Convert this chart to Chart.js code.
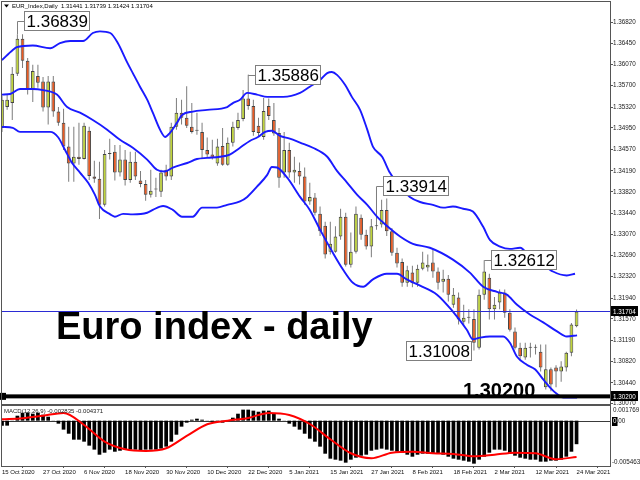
<!DOCTYPE html>
<html>
<head>
<meta charset="utf-8">
<title>Euro index - daily</title>
<script src="https://cdn.jsdelivr.net/npm/chart.js@4.4.1/dist/chart.umd.min.js"></script>
<style>
  html, body { margin: 0; padding: 0; background: #fff; }
  #wrap { position: relative; width: 640px; height: 480px; overflow: hidden; background: #fff; }
  canvas { position: absolute; left: 0; }
  #priceChart { top: 0; }
  #macdChart { top: 404px; }
</style>
</head>
<body>
<div id="wrap">
  <canvas id="priceChart" width="640" height="406"></canvas>
  <canvas id="macdChart" width="640" height="76"></canvas>
</div>
<script>
// Datos (velas diarias, 15 Oct 2020 - 24 Mar 2021)
const symbol = 'EUR_Index';
const chartTitle = 'Euro index - daily';

const dateLabels = ['15 Oct 2020', '27 Oct 2020', '6 Nov 2020', '18 Nov 2020', '30 Nov 2020',
  '10 Dec 2020', '22 Dec 2020', '5 Jan 2021', '15 Jan 2021', '27 Jan 2021', '8 Feb 2021',
  '18 Feb 2021', '2 Mar 2021', '12 Mar 2021', '24 Mar 2021'];
const dateBars = [0, 8, 16, 24, 32, 40, 48, 56, 64, 72, 80, 88, 96, 104, 112];

const opens = [1.3495,1.3532,1.3539,1.3591,1.3653,1.3614,1.3564,1.3587,1.3577,1.3531,
  1.3577,1.3524,1.3504,1.3462,1.3432,1.3444,1.3440,1.3490,1.3409,1.3405,
  1.3359,1.3449,1.3453,1.3416,1.3439,1.3403,1.3435,1.3402,1.3396,1.3377,
  1.3386,1.3382,1.3421,1.3409,1.3497,1.3522,1.3513,1.3497,1.3490,1.3488,
  1.3456,1.3448,1.3432,1.3463,1.3430,1.3469,1.3495,1.3511,1.3547,1.3534,
  1.3499,1.3479,1.3534,1.3509,1.3486,1.3416,1.3456,1.3416,1.3419,1.3409,
  1.3365,1.3372,1.3343,1.3322,1.3276,1.3276,1.3303,1.3338,1.3253,1.3276,
  1.3336,1.3306,1.3285,1.3321,1.3324,1.3350,1.3312,1.3274,1.3258,1.3221,
  1.3239,1.3221,1.3246,1.3248,1.3257,1.3241,1.3223,1.3228,1.3182,1.3195,
  1.3152,1.3159,1.3157,1.3106,1.3200,1.3230,1.3174,1.3186,1.3204,1.3168,
  1.3135,1.3106,1.3089,1.3106,1.3106,1.3099,1.3036,1.3068,1.3071,1.3064,
  1.3071,1.3097,1.31441];
const highs = [1.3552,1.3554,1.3603,1.3661,1.3661,1.3619,1.3607,1.3607,1.3585,1.3587,
  1.3587,1.3532,1.3529,1.3497,1.3497,1.3504,1.3504,1.3497,1.3437,1.3435,
  1.3456,1.3476,1.3465,1.3465,1.3456,1.3453,1.3453,1.3419,1.3403,1.3421,
  1.3407,1.3421,1.3430,1.3504,1.3548,1.3545,1.3569,1.3539,1.3522,1.3504,
  1.3478,1.3474,1.3476,1.3495,1.3478,1.3506,1.3522,1.3562,1.3589,1.3545,
  1.3513,1.3548,1.3547,1.3539,1.3495,1.3488,1.3469,1.3444,1.3434,1.3425,
  1.3398,1.3380,1.3356,1.3329,1.3329,1.3321,1.3352,1.3345,1.3310,1.3356,
  1.3342,1.3315,1.3334,1.3391,1.3368,1.3370,1.3318,1.3283,1.3264,1.3251,
  1.3251,1.3253,1.3276,1.3271,1.3280,1.3248,1.3244,1.3235,1.3212,1.3204,
  1.3182,1.3174,1.3174,1.3209,1.3261,1.3237,1.3196,1.3209,1.3209,1.3174,
  1.3142,1.3115,1.3115,1.3115,1.3112,1.3112,1.3112,1.3071,1.3075,1.3082,
  1.3099,1.3150,1.31739];
const lows = [1.3488,1.3527,1.3509,1.3587,1.3601,1.3554,1.3541,1.3566,1.3524,1.3501,
  1.3515,1.3499,1.3456,1.3400,1.3400,1.3430,1.3439,1.3403,1.3398,1.3334,
  1.3356,1.3439,1.3402,1.3409,1.3393,1.3398,1.3403,1.3390,1.3366,1.3372,
  1.3373,1.3373,1.3402,1.3403,1.3492,1.3501,1.3495,1.3485,1.3483,1.3440,
  1.3442,1.3439,1.3428,1.3428,1.3428,1.3462,1.3492,1.3507,1.3527,1.3481,
  1.3479,1.3474,1.3509,1.3481,1.3389,1.3407,1.3407,1.3398,1.3395,1.3359,
  1.3359,1.3340,1.3304,1.3264,1.3271,1.3274,1.3297,1.3250,1.3248,1.3273,
  1.3297,1.3280,1.3266,1.3315,1.3319,1.3304,1.3269,1.3248,1.3214,1.3214,
  1.3213,1.3214,1.3243,1.3241,1.3230,1.3209,1.3204,1.3188,1.3177,1.3147,
  1.3145,1.3149,1.3101,1.3103,1.3191,1.3156,1.3156,1.3174,1.3159,1.3135,
  1.3103,1.3085,1.3085,1.3089,1.3094,1.3064,1.3032,1.3029,1.3036,1.3046,
  1.3064,1.3091,1.31424];
const closes = [1.3545,1.3545,1.3591,1.3653,1.3614,1.3564,1.3596,1.3575,1.3531,1.3577,
  1.3524,1.3504,1.3462,1.3432,1.3444,1.3440,1.3499,1.3410,1.3405,1.3359,
  1.3449,1.3449,1.3416,1.3439,1.3403,1.3435,1.3409,1.3396,1.3377,1.3384,
  1.3386,1.3416,1.3409,1.3497,1.3522,1.3513,1.3499,1.3488,1.3490,1.3456,
  1.3448,1.3442,1.3462,1.3430,1.3469,1.3497,1.3509,1.3547,1.3534,1.3488,
  1.3486,1.3525,1.3516,1.3485,1.3407,1.3456,1.3416,1.3421,1.3409,1.3365,
  1.3373,1.3345,1.3312,1.3271,1.3290,1.3303,1.3338,1.3253,1.3276,1.3343,
  1.3306,1.3285,1.3321,1.3322,1.3350,1.3312,1.3274,1.3255,1.3221,1.3243,
  1.3220,1.3246,1.3257,1.3253,1.3241,1.3221,1.3228,1.3200,1.3200,1.3156,
  1.3159,1.3159,1.3115,1.3200,1.3241,1.3174,1.3182,1.3204,1.3168,1.3138,
  1.3106,1.3091,1.3106,1.3106,1.3106,1.3071,1.3068,1.3041,1.3064,1.3073,
  1.3097,1.3147,1.31704];

// Bandas de Bollinger: [barra, precio]
const upperBand = [[0,1.3615],[2.1,1.3633],[2.9,1.3638],[6,1.3641],[9.4,1.3636],[11.3,1.3645],
  [13.3,1.3649],[15.8,1.3649],[17.7,1.3663],[19.1,1.3666],[21.1,1.3663],[22.6,1.3645],[24.4,1.3611],
  [25.5,1.3592],[26.9,1.3568],[28.3,1.3545],[29.4,1.3522],[30.8,1.3492],[31.8,1.3479],[32.7,1.3486],
  [34.1,1.3504],[35.1,1.3518],[37.2,1.3524],[40,1.3527],[43.9,1.3532],[45,1.3539],[46.4,1.3545],
  [47.8,1.3557],[49.7,1.3554],[51.7,1.3550],[54.8,1.3550],[58.1,1.3557],[60,1.3568],[62,1.3580],
  [63.4,1.3592],[64.3,1.3594],[65.3,1.3589],[66.9,1.3571],[68.2,1.3550],[69.8,1.3527],[71.2,1.3492],
  [72.3,1.3462],[74.1,1.3444],[75.6,1.3416],[77.6,1.3391],[79.5,1.3373],[81.5,1.3364],[84,1.3359],
  [86,1.3354],[87.9,1.3356],[89.9,1.3352],[91.8,1.3347],[93.8,1.3320],[95.1,1.3297],[97.1,1.3285],
  [99,1.3281],[101,1.3283],[102.9,1.3267],[104.9,1.3257],[107.4,1.3241],[110.1,1.3234],[111.7,1.3237]];
const middleBand = [[0,1.3554],[1.6,1.3555],[3.5,1.3564],[6,1.3564],[8,1.3562],[10.7,1.3554],
  [12.7,1.3532],[15.2,1.3522],[17.7,1.3509],[20.5,1.3492],[23,1.3474],[25.5,1.3460],[28.3,1.3439],
  [30.2,1.3421],[31.8,1.3418],[33.3,1.3425],[36.1,1.3433],[38,1.3440],[40,1.3442],[42.5,1.3444],
  [44.4,1.3448],[46.4,1.3460],[48.3,1.3472],[49.9,1.3479],[51.3,1.3488],[52.6,1.3490],[54.2,1.3481],
  [56.1,1.3476],[58.1,1.3469],[60.6,1.3460],[63.4,1.3444],[65.3,1.3419],[67.3,1.3398],[69.2,1.3377],
  [71.2,1.3359],[73.1,1.3338],[75,1.3322],[77.6,1.3303],[80.1,1.3290],[83.4,1.3283],[87.9,1.3262],
  [91.2,1.3239],[93.8,1.3214],[96.5,1.3205],[98.4,1.3200],[100.4,1.3182],[102.9,1.3165],
  [105.5,1.3151],[108.2,1.3135],[110.1,1.3126],[112.1,1.3128]];
const lowerBand = [[0,1.3497],[2.1,1.3495],[3.5,1.3488],[9.4,1.3488],[10.9,1.3479],[12.3,1.3456],
  [13.6,1.3434],[15.2,1.3416],[16.8,1.3398],[18.1,1.3377],[19.1,1.3356],[21.1,1.3342],[22,1.3338],
  [23.6,1.3343],[25.5,1.3342],[28.3,1.3345],[29.4,1.3350],[31.4,1.3357],[33.3,1.3350],[35.1,1.3338],
  [37.2,1.3338],[39,1.3354],[41.9,1.3354],[43.9,1.3359],[46.4,1.3365],[47.8,1.3373],[49.7,1.3391],
  [51.7,1.3412],[52.6,1.3426],[53.6,1.3425],[55.6,1.3407],[58.1,1.3373],[60,1.3350],[62,1.3315],
  [64.5,1.3274],[66.5,1.3244],[68.4,1.3221],[70.4,1.3214],[72.3,1.3227],[75,1.3237],[77,1.3237],
  [78.9,1.3227],[81.5,1.3216],[84.8,1.3200],[87.9,1.3170],[90.6,1.3138],[91.8,1.3121],[93.2,1.3124],
  [95.1,1.3126],[97.7,1.3126],[99,1.3115],[100.4,1.3090],[102.3,1.3076],[103.9,1.3068],
  [105.5,1.3050],[106.8,1.3036],[108.2,1.3024],[109.4,1.3018],[112.1,1.3018]];

const priceTicks = [1.3682, 1.3645, 1.3607, 1.3570, 1.3532, 1.3495, 1.3457, 1.3419, 1.3382, 1.3344,
  1.3307, 1.3269, 1.3232, 1.3194, 1.3157, 1.3119, 1.3082, 1.3044, 1.3007];
const supportLevel = 1.30200;

// Etiquetas de maximos / minimos
const peakTexts = ['1.36839', '1.35886', '1.33914', '1.32612', '1.31008'];
const peakBars = [3, 48, 73, 94, 92];
const peakKinds = ['high', 'high', 'high', 'high', 'low'];

// MACD(12,26,9)
const macdHist = [-0.0006,-0.0006,0.00002,0.0006,0.00096,0.00096,0.00084,0.00096,0.00072,0.00048,
  0.00002,-0.00036,-0.00108,-0.00157,-0.00229,-0.00229,-0.00253,-0.00301,-0.00349,-0.0041,
  -0.00386,-0.00349,-0.00374,-0.00362,-0.00349,-0.00349,-0.00349,-0.00362,-0.00349,-0.00349,
  -0.00349,-0.00337,-0.00313,-0.00253,-0.00169,-0.00072,-0.00024,0.00012,0.00024,0.00012,
  0.00002,-0.00012,-0.00012,-0.00024,0.00002,0.00036,0.00084,0.00133,0.00133,0.00121,
  0.00108,0.00121,0.00121,0.00084,0.00024,-0.00002,-0.00036,-0.00072,-0.00108,-0.00157,
  -0.00217,-0.00253,-0.00313,-0.00398,-0.00458,-0.0047,-0.00482,-0.00506,-0.0047,-0.00446,
  -0.00422,-0.0041,-0.00362,-0.00349,-0.00337,-0.00349,-0.00362,-0.00374,-0.00386,-0.0041,
  -0.00434,-0.0041,-0.00398,-0.00398,-0.00398,-0.00398,-0.0041,-0.00434,-0.00458,-0.0047,
  -0.00482,-0.00494,-0.00518,-0.0047,-0.00434,-0.00386,-0.00349,-0.00349,-0.00362,-0.00398,
  -0.00422,-0.00446,-0.00458,-0.0047,-0.0047,-0.00494,-0.00494,-0.00482,-0.00482,-0.0047,
  -0.00434,-0.00374,-0.002835];
const signalBars = [0,4,8,12,16,20,24,28,32,36,40,44,48,52,56,60,64,68,72,76,80,84,88,92,96,100,104,108,112];
const signalVals = [0.00017,0.00029,0.0006,0.00093,-0.00052,-0.00253,-0.00345,-0.00365,-0.00333,-0.00184,
  -0.00043,0.0,0.00033,0.00093,0.00069,-0.0004,-0.00224,-0.00393,-0.00453,-0.00386,
  -0.00374,-0.00393,-0.00401,-0.00429,-0.0041,-0.00386,-0.00393,-0.00465,-0.004371];
const macdMax = 0.001769;
const macdMin = -0.005463;

// Estilo
const FONT = '"Liberation Sans", Arial, sans-serif';
const BULL = '#bfd43a';
const BEAR = '#ea5a22';
const EDGE = '#444444';
const WICK = '#7c7c7c';
const BAND = '#1a1aff';
const FRAME = '#555555';
const X_MAX = 118.52;
const PRICE_MIN = 1.30065;
const PRICE_MAX = 1.37179;

Chart.defaults.font.family = FONT;

function bandDataset(points) {
    return {
        type: 'line',
        data: points.map(([x, y]) => ({ x, y })),
        borderColor: BAND,
        borderWidth: 1.9,
        pointRadius: 0,
        cubicInterpolationMode: 'monotone',
        order: 0
    };
}

function noPadding(s) {
    s.paddingTop = 0;
    s.paddingBottom = 0;
    s.paddingLeft = 0;
    s.paddingRight = 0;
}

function axisBox(ctx, text, x, y) {
    ctx.fillStyle = '#000';
    ctx.fillRect(x, Math.round(y) - 5, 27, 10);
    ctx.fillStyle = '#fff';
    ctx.font = '6.3px ' + FONT;
    ctx.textAlign = 'left';
    ctx.textBaseline = 'middle';
    ctx.fillText(text, x + 2, y + 0.5);
}

// Dibujos extra del panel de precios
const priceDecor = {
    id: 'priceDecor',
    afterDatasetsDraw(chart) {
        const { ctx, chartArea: a, scales: { x, y } } = chart;
        ctx.save();

        // linea de precio actual
        const yCur = Math.round(y.getPixelForValue(closes[closes.length - 1])) + 0.5;
        ctx.strokeStyle = '#2b2bd4';
        ctx.lineWidth = 1;
        ctx.beginPath();
        ctx.moveTo(a.left, yCur);
        ctx.lineTo(a.right, yCur);
        ctx.stroke();

        // soporte 1.30200
        const ySup = y.getPixelForValue(supportLevel);
        ctx.fillStyle = '#000';
        ctx.fillRect(0, ySup - 2, a.right, 4);
        ctx.fillRect(0, ySup - 3.5, 6, 7);
        ctx.font = 'bold 20px ' + FONT;
        ctx.textAlign = 'left';
        ctx.textBaseline = 'alphabetic';
        ctx.fillText(supportLevel.toFixed(5), 463, ySup + 0.5);

        // titulo grande
        ctx.font = 'bold 38px ' + FONT;
        ctx.fillText(chartTitle, 56, 339);

        // etiquetas de maximos y minimos
        ctx.font = '17px ' + FONT;
        ctx.textBaseline = 'middle';
        ctx.lineWidth = 1;
        peakTexts.forEach((txt, k) => {
            const bar = peakBars[k];
            const xBar = Math.round(x.getPixelForValue(bar)) + 0.5;
            const yBox = y.getPixelForValue(parseFloat(txt));
            const w = Math.round(ctx.measureText(txt).width) + 5;
            const h = 20;
            const bx = peakKinds[k] === 'high' ? Math.round(xBar) + 6 : Math.round(xBar) - 3 - w;
            const by = Math.round(yBox - h / 2);
            ctx.strokeStyle = '#7f7f7f';
            if (peakKinds[k] === 'high') {
                const yHigh = y.getPixelForValue(highs[bar]);
                ctx.beginPath();
                ctx.moveTo(bx, by + h / 2 + 0.5);
                ctx.lineTo(xBar, by + h / 2 + 0.5);
                ctx.lineTo(xBar, yHigh);
                ctx.stroke();
            }
            ctx.fillStyle = '#fff';
            ctx.fillRect(bx, by, w, h);
            ctx.strokeRect(bx + 0.5, by + 0.5, w - 1, h - 1);
            ctx.fillStyle = '#000';
            ctx.fillText(txt, bx + 2.5, by + h / 2 + 1);
        });
        ctx.restore();
    },
    afterDraw(chart) {
        const { ctx, chartArea: a, scales: { y } } = chart;
        ctx.save();
        ctx.strokeStyle = FRAME;
        ctx.lineWidth = 1;
        ctx.strokeRect(a.left - 0.5, a.top - 0.5, a.right - a.left + 1, a.bottom - a.top + 1);

        axisBox(ctx, closes[closes.length - 1].toFixed(5), a.right + 1, y.getPixelForValue(closes[closes.length - 1]));
        axisBox(ctx, supportLevel.toFixed(5), a.right + 1, y.getPixelForValue(supportLevel));

        // linea de informacion superior
        const n = closes.length - 1;
        ctx.fillStyle = '#000';
        ctx.beginPath();
        ctx.moveTo(4, 4.5);
        ctx.lineTo(9, 4.5);
        ctx.lineTo(6.5, 7.5);
        ctx.closePath();
        ctx.fill();
        ctx.font = '6px ' + FONT;
        ctx.textAlign = 'left';
        ctx.textBaseline = 'middle';
        ctx.fillText(symbol + ',Daily  ' + [opens[n], highs[n], lows[n], closes[n]].map(v => v.toFixed(5)).join(' '), 12, 6.5);
        ctx.restore();
    }
};

new Chart(document.getElementById('priceChart'), {
    type: 'bar',
    data: {
        datasets: [
            bandDataset(upperBand),
            bandDataset(middleBand),
            bandDataset(lowerBand),
            {
                type: 'bar',
                data: opens.map((o, i) => ({ x: i, y: [o, closes[i]] })),
                backgroundColor: c => closes[c.dataIndex] > opens[c.dataIndex] ? BULL
                    : closes[c.dataIndex] < opens[c.dataIndex] ? BEAR : EDGE,
                borderColor: EDGE,
                borderWidth: 1,
                borderSkipped: false,
                minBarLength: 1,
                grouped: false,
                maxBarThickness: 4,
                order: 1
            },
            {
                type: 'bar',
                data: lows.map((l, i) => ({ x: i, y: [l, highs[i]] })),
                backgroundColor: WICK,
                borderWidth: 0,
                grouped: false,
                maxBarThickness: 1,
                order: 2
            }
        ]
    },
    options: {
        responsive: false,
        animation: false,
        layout: { padding: { left: 2, top: 2, right: 0, bottom: 2 } },
        plugins: { legend: { display: false }, tooltip: { enabled: false } },
        scales: {
            x: { type: 'linear', min: 0, max: X_MAX, offset: false, display: false },
            y: {
                position: 'right',
                min: PRICE_MIN,
                max: PRICE_MAX,
                afterFit: s => { s.width = 30; noPadding(s); },
                afterBuildTicks: s => { s.ticks = priceTicks.map(v => ({ value: v })); },
                ticks: { callback: v => Number(v).toFixed(5), font: { size: 6.3 }, color: '#222', padding: 0 },
                grid: { drawOnChartArea: false, drawTicks: true, tickLength: 3, color: FRAME },
                border: { display: false }
            }
        }
    },
    plugins: [priceDecor]
});

// Panel MACD
const macdDecor = {
    id: 'macdDecor',
    beforeDatasetsDraw(chart) {
        const { ctx, chartArea: a, scales: { y } } = chart;
        const y0 = Math.round(y.getPixelForValue(0)) + 0.5;
        ctx.save();
        ctx.strokeStyle = '#3a3a3a';
        ctx.lineWidth = 1;
        ctx.beginPath();
        ctx.moveTo(a.left, y0);
        ctx.lineTo(a.right, y0);
        ctx.stroke();
        ctx.restore();
    },
    afterDraw(chart) {
        const { ctx, chartArea: a, scales: { y } } = chart;
        ctx.save();
        ctx.strokeStyle = FRAME;
        ctx.lineWidth = 1;
        ctx.strokeRect(a.left - 0.5, a.top - 0.5, a.right - a.left + 1, a.bottom - a.top + 1);

        ctx.textAlign = 'left';
        ctx.textBaseline = 'middle';
        ctx.fillStyle = '#222';
        ctx.font = '6px ' + FONT;
        ctx.fillText('MACD(12,26,9) ' + macdHist[macdHist.length - 1].toFixed(6) + ' ' +
            signalVals[signalVals.length - 1].toFixed(6), 4, a.top + 5.5);

        ctx.font = '6.3px ' + FONT;
        ctx.fillText(macdMax.toFixed(6), a.right + 3, a.top + 4);
        ctx.fillText(macdMin.toFixed(6), a.right + 2, a.bottom - 4);

        const y0 = y.getPixelForValue(0);
        const w0 = ctx.measureText('0').width;
        ctx.fillStyle = '#000';
        ctx.fillRect(a.right + 2, Math.round(y0) - 4, w0 + 2, 9);
        ctx.fillStyle = '#fff';
        ctx.fillText('0', a.right + 3, y0 + 0.5);
        ctx.fillStyle = '#222';
        ctx.fillText('.00', a.right + 3 + w0, y0 + 0.5);
        ctx.restore();
    }
};

new Chart(document.getElementById('macdChart'), {
    type: 'bar',
    data: {
        datasets: [
            {
                type: 'line',
                data: signalBars.map((b, k) => ({ x: b, y: signalVals[k] })),
                borderColor: '#ff0000',
                borderWidth: 2,
                pointRadius: 0,
                cubicInterpolationMode: 'monotone',
                order: 0
            },
            {
                type: 'bar',
                data: macdHist.map((v, i) => ({ x: i, y: v })),
                backgroundColor: '#000',
                borderWidth: 0,
                grouped: false,
                maxBarThickness: 4,
                order: 1
            }
        ]
    },
    options: {
        responsive: false,
        animation: false,
        layout: { padding: { left: 2, top: 2, right: 0, bottom: 0 } },
        plugins: { legend: { display: false }, tooltip: { enabled: false } },
        scales: {
            x: {
                type: 'linear',
                min: 0,
                max: X_MAX,
                offset: false,
                afterFit: s => { s.height = 14; noPadding(s); },
                afterBuildTicks: s => { s.ticks = dateBars.map(b => ({ value: b })); },
                ticks: {
                    callback: (v, i) => dateLabels[i],
                    autoSkip: false,
                    maxRotation: 0,
                    align: 'start',
                    padding: 1,
                    font: { size: 6 },
                    color: '#111'
                },
                grid: { drawOnChartArea: false, drawTicks: true, tickLength: 2, color: FRAME },
                border: { display: false }
            },
            y: {
                position: 'right',
                min: macdMin,
                max: macdMax,
                afterFit: s => { s.width = 30; noPadding(s); },
                ticks: { display: false },
                grid: { display: false },
                border: { display: false }
            }
        }
    },
    plugins: [macdDecor]
});
</script>
</body>
</html>
